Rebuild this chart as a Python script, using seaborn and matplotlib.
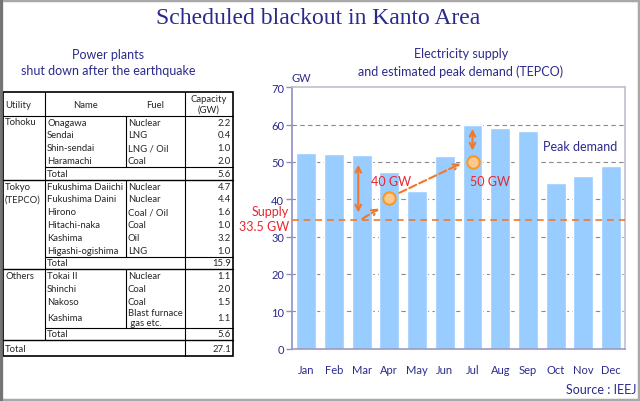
import numpy as np
import matplotlib
matplotlib.use("Agg")
import matplotlib.pyplot as plt
from matplotlib.patches import Rectangle
import seaborn as sns

# --- chart data (GW) ---
months = ["Jan", "Feb", "Mar", "Apr", "May", "Jun",
          "Jul", "Aug", "Sep", "Oct", "Nov", "Dec"]
peak_demand = [52.4, 52.0, 51.8, 47.4, 42.1, 51.5,
               60.0, 59.0, 58.4, 44.4, 46.2, 48.9]
supply_line = 34.4
supply_points = [40.3, 50.0]          # Apr, Jul
supply_months = ["Apr", "Jul"]

# --- table data ---
utilities = ["Tohoku", "Tokyo\n(TEPCO)", "Others"]
tohoku_names = ["Onagawa", "Sendai", "Shin-sendai", "Haramachi"]
tohoku_fuels = ["Nuclear", "LNG", "LNG / Oil", "Coal"]
tohoku_gw = [2.2, 0.4, 1.0, 2.0]
tokyo_names = ["Fukushima Daiichi", "Fukushima Daini", "Hirono",
               "Hitachi-naka", "Kashima", "Higashi-ogishima"]
tokyo_fuels = ["Nuclear", "Nuclear", "Coal / Oil", "Coal", "Oil", "LNG"]
tokyo_gw = [4.7, 4.4, 1.6, 1.0, 3.2, 1.0]
others_names = ["Tokai II", "Shinchi", "Nakoso", "Kashima"]
others_fuels = ["Nuclear", "Coal", "Coal", "Blast furnace\n gas etc."]
others_gw = [1.1, 2.0, 1.5, 1.1]
group_totals = [5.6, 15.9, 5.6]
grand_total = 27.1

NAVY = "#2b2a8c"
RED = "#e8262f"
ORANGE = "#f0782c"
SANS = ["Lato", "DejaVu Sans"]

sns.set_style("white")
plt.rcParams["font.family"] = SANS

W, H = 640, 402
fig = plt.figure(figsize=(6.4, 4.02), dpi=100)


def fx(x):
    return x / W


def fy(y):
    return 1 - y / H


# overlay in pixel coordinates for the table and frame
ov = fig.add_axes([0, 0, 1, 1])
ov.set_xlim(0, W)
ov.set_ylim(H, 0)
ov.axis("off")
ov.add_patch(Rectangle((1, 1), W - 2, H - 2, fill=False, ec="#a8a8a8", lw=2.5))
ov.plot([1, 1], [0, H], color="#707070", lw=2)

fig.text(fx(318), fy(19), "Scheduled blackout in Kanto Area", ha="center", va="center",
         fontsize=17, color=NAVY, family=["Liberation Serif", "DejaVu Serif"])
fig.text(fx(108), fy(63), "Power plants\nshut down after the earthquake", ha="center",
         va="center", fontsize=9, color=NAVY, linespacing=1.45)
fig.text(fx(461), fy(63), "Electricity supply\nand estimated peak demand (TEPCO)",
         ha="center", va="center", fontsize=9, color=NAVY, linespacing=1.45)

# --- table ---
L, c1, c2, c3, R = 3, 45, 126, 185, 233
top, head_h, rh = 93.3, 23.4, 12.8
fs = 6.8
lw_in = 0.8

y = top + head_h
ov.text(L + 2, top + head_h / 2, "Utility", fontsize=fs, va="center")
ov.text((c1 + c2) / 2, top + head_h / 2, "Name", fontsize=fs, va="center", ha="center")
ov.text((c2 + c3) / 2, top + head_h / 2, "Fuel", fontsize=fs, va="center", ha="center")
ov.text((c3 + R) / 2, top + head_h / 2, "Capacity\n(GW)", fontsize=fs, va="center",
        ha="center", linespacing=1.2)
ov.plot([L, R], [y, y], color="black", lw=lw_in)

groups = [(tohoku_names, tohoku_fuels, tohoku_gw),
          (tokyo_names, tokyo_fuels, tokyo_gw),
          (others_names, others_fuels, others_gw)]
for util, (names, fuels, gws), tot in zip(utilities, groups, group_totals):
    y0 = y
    ov.text(L + 2, y0 + 1.8, util, fontsize=fs, va="top", linespacing=1.55)
    for name, fuel, gw in zip(names, fuels, gws):
        h = rh * 1.55 if "\n" in fuel else rh
        ov.text(c1 + 2, y + h / 2, name, fontsize=fs, va="center")
        ov.text(c2 + 2, y + h / 2, fuel, fontsize=fs, va="center", linespacing=1.05)
        ov.text(R - 2, y + h / 2, f"{gw:.1f}", fontsize=fs, va="center", ha="right")
        y += h
    ov.plot([c2, c2], [y0, y], color="black", lw=lw_in)
    ov.plot([c1, R], [y, y], color="black", lw=lw_in)
    ov.text(c1 + 2, y + rh / 2, "Total", fontsize=fs, va="center")
    ov.text(R - 2, y + rh / 2, f"{tot:.1f}", fontsize=fs, va="center", ha="right")
    y += rh
    ov.plot([L, R], [y, y], color="black", lw=1.0)
ov.plot([c1, c1], [top, y], color="black", lw=lw_in)
ov.text(L + 2, y + 8, "Total", fontsize=fs, va="center")
ov.text(R - 2, y + 8, f"{grand_total:.1f}", fontsize=fs, va="center", ha="right")
y += 16
ov.plot([c3, c3], [top, y], color="black", lw=lw_in)
ov.add_patch(Rectangle((L, top), R - L, y - top, fill=False, ec="black", lw=1.2))

# --- chart ---
ax = fig.add_axes([fx(292.3), fy(349.6), fx(625) - fx(292.3), fy(88.3) - fy(349.6)])
sns.barplot(x=months, y=peak_demand, color="#99ccff", saturation=1, width=0.72,
            ax=ax, zorder=2)
ax.set_xlim(-0.5, 11.5)
ax.set_ylim(0, 70)
ax.set_yticks(range(0, 71, 10))
for v in range(10, 70, 10):
    ax.axhline(v, color="#8a8a8a", lw=0.8, ls=(0, (4, 3)), zorder=1)
for side, col in [("left", "#8f8fc8"), ("bottom", "#9a9ac8"),
                  ("top", "#c0c0d0"), ("right", "#c0c0d0")]:
    ax.spines[side].set_visible(True)
    ax.spines[side].set_color(col)
    ax.spines[side].set_linewidth(1.2)
ax.tick_params(axis="y", left=True, length=4, width=1, color="#8f8fc8", pad=2,
               labelsize=8, labelcolor=NAVY)
ax.tick_params(axis="x", length=0, pad=11, labelsize=8, labelcolor=NAVY)
ax.set_xlabel("")
ax.set_ylabel("")

pos = {m: i for i, m in enumerate(months)}
ax.axhline(supply_line, color=ORANGE, lw=1.2, ls=(0, (4, 3)), zorder=3)
ax.scatter([pos[m] for m in supply_months], supply_points, s=80, color="#fcc88e",
           edgecolor="#f59a2a", linewidth=1.5, zorder=5)

ax.annotate("", xy=(1.88, 50), xytext=(1.88, 35.7),
            arrowprops=dict(arrowstyle="<->", color=ORANGE, lw=1.5), zorder=4)
ax.annotate("", xy=(6.0, 59.6), xytext=(6.0, 52.3),
            arrowprops=dict(arrowstyle="<->", color=ORANGE, lw=1.5), zorder=4)
ax.annotate("", xy=(2.72, 37.9), xytext=(1.94, 34.4),
            arrowprops=dict(arrowstyle="->", color=ORANGE, lw=1.5, ls="--"), zorder=4)
ax.annotate("", xy=(5.67, 49.9), xytext=(3.27, 41.4),
            arrowprops=dict(arrowstyle="->", color=ORANGE, lw=1.5, ls="--"), zorder=4)

ax.text(3.06, 45, "40 GW", color=RED, fontsize=9, ha="center", va="center", zorder=6)
ax.text(6.64, 45, "50 GW", color=RED, fontsize=9, ha="center", va="center", zorder=6)
ax.text(9.89, 54.4, "Peak demand", color=NAVY, fontsize=9, ha="center", va="center",
        zorder=6)

fig.text(fx(292), fy(78), "GW", color=NAVY, fontsize=8, ha="left", va="center")
fig.text(fx(289), fy(212.5), "Supply", color=RED, fontsize=9, ha="right", va="center")
fig.text(fx(289), fy(227.5), "33.5 GW", color=RED, fontsize=9, ha="right", va="center")
fig.text(fx(636), fy(390), "Source : IEEJ", color=NAVY, fontsize=9, ha="right",
         va="center")

fig.savefig("out.png", dpi=100)
